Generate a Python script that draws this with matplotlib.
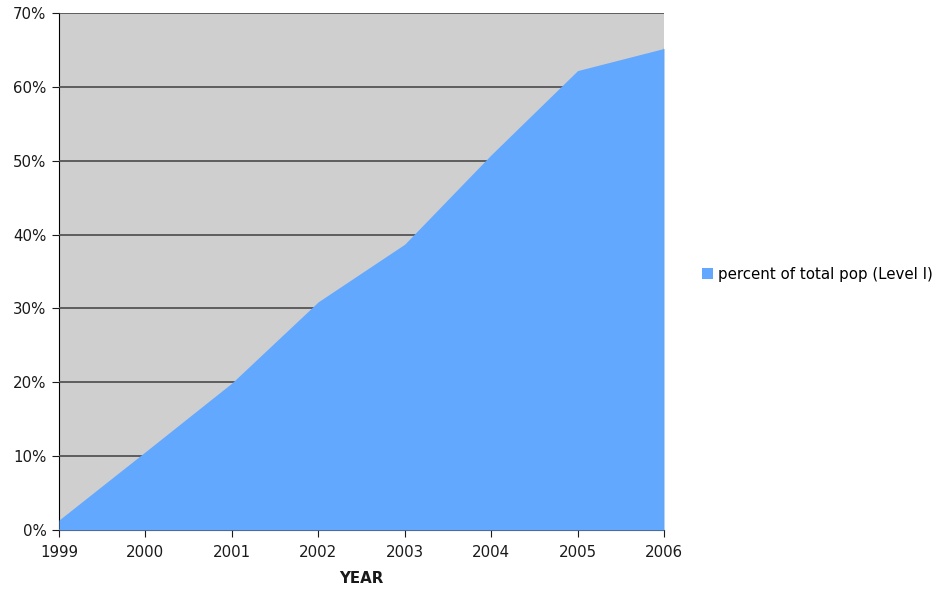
import numpy as np
import matplotlib.pyplot as plt
from matplotlib.ticker import PercentFormatter

# data
years = [1999, 2000, 2001, 2002, 2003, 2004, 2005, 2006]
pct_level1 = [1.35, 10.6, 19.9, 30.9, 38.7, 50.8, 62.2, 65.2]
series_name = 'percent of total pop (Level I)'

plt.rcParams['font.family'] = ['DejaVu Sans']

fig = plt.figure(figsize=(9.38, 5.9), dpi=100)
ax = fig.add_axes([59/938, 60/590, 605/938, 517/590])
ax.set_facecolor('#cfcfcf')

ax.fill_between(years, pct_level1, 0, color='#62a8ff', lw=0, label=series_name, zorder=3)
# thin grey edge on the right side of the area
ax.plot([years[-1], years[-1]], [0, pct_level1[-1]], color='#8a9aaa', lw=1, zorder=4)

ax.set_xlim(years[0], years[-1])
ax.set_ylim(0, 70)
ax.set_xticks(years)
ax.set_yticks(range(0, 71, 10))
ax.yaxis.set_major_formatter(PercentFormatter(decimals=0))
ax.grid(axis='y', color='#555555', lw=1.3, zorder=2)
ax.set_axisbelow(False)

for s in ['top', 'right']:
    ax.spines[s].set_visible(False)
ax.spines['left'].set_color('black')
ax.spines['bottom'].set_color('#333333')
ax.tick_params(axis='both', direction='out', length=5, labelsize=10.8, colors='#1a1a1a')
ax.tick_params(axis='x', pad=6)
ax.tick_params(axis='y', pad=4)

ax.set_xlabel('YEAR', fontweight='bold', fontsize=10.8, labelpad=8, color='#1a1a1a')

ax.legend(loc='center left', bbox_to_anchor=(1.04, 0.495), frameon=False,
          fontsize=10.8, handlelength=0.75, handleheight=0.75, handletextpad=0.35)

plt.savefig('out.png')
